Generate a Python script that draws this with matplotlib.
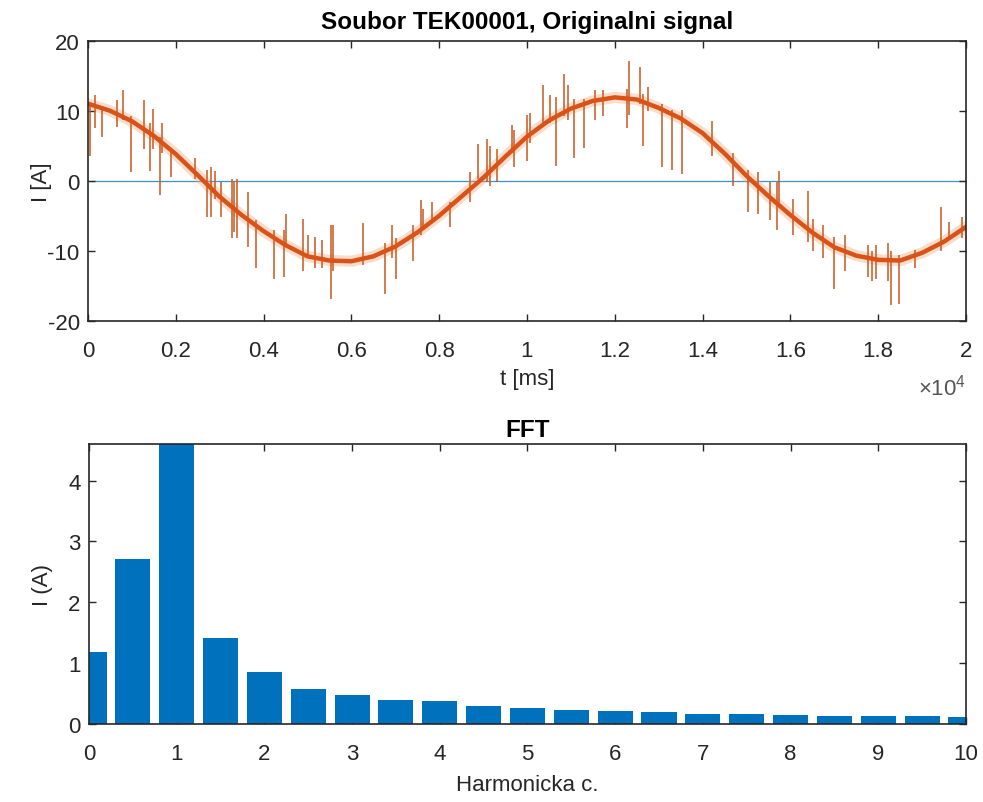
import matplotlib
matplotlib.use('Agg')
import matplotlib.pyplot as plt

plt.rcParams['font.family'] = ['Liberation Sans', 'DejaVu Sans']
plt.rcParams['mathtext.default'] = 'regular'
plt.rcParams['axes.unicode_minus'] = False

# --- signal (t in ms) ---
base_t = [0, 500, 1000, 1500, 2000, 2500, 3000, 3500, 4000, 4500, 5000,
          5500, 6000, 6500, 7000, 7500, 8000, 8500, 9000, 9500, 10000,
          10500, 11000, 11500, 12000, 12500, 13000, 13500, 14000, 14500, 15000,
          15500, 16000, 16500, 17000, 17500, 18000, 18500, 19000, 19500, 20000]
base_i = [11.0, 10.0, 8.5, 6.4, 3.8, 0.8, -2.3, -4.9, -7.2, -9.2, -10.8,
          -11.4, -11.5, -10.8, -9.4, -7.4, -5.0, -2.3, 0.4, 3.4, 6.3,
          8.6, 10.3, 11.4, 11.9, 11.6, 10.4, 8.9, 6.8, 3.9, 0.7,
          -2.2, -4.9, -7.4, -9.5, -10.7, -11.3, -11.4, -10.3, -8.7, -6.6]

spike_t = [50, 160, 310, 650, 800, 990, 1280, 1410, 1490, 1640, 1690, 1890,
           2440, 2700, 2800, 2890, 3030, 3270, 3330, 3400, 3640, 3820, 4240,
           4470, 4510, 4900, 5020, 5160, 5340, 5540, 5580, 6270, 6760, 6920,
           7010, 7410, 7580, 7630, 7830, 8240, 8710, 8890, 9080, 9160, 9310,
           9650, 9700, 10010, 10070, 10370, 10520, 10660, 10850, 10940, 11080,
           11310, 11550, 11740, 12270, 12330, 12570, 12650, 12750, 13070, 13300,
           13530, 14210, 14700, 15040, 15270, 15530, 15700, 15750, 16070, 16390,
           16520, 16750, 17000, 17240, 17770, 17860, 17960, 18230, 18290, 18470,
           18830, 19440, 19620, 19920]
spike_lo = [3.5, 7.5, 6.3, 7.7, 8.7, 1.2, 4.5, 1.4, 4.5, -2.1, 4.0, 0.5,
            0.2, -5.2, -5.2, -2.6, -5.2, -8.2, -7.3, -8.2, -9.4, -12.4, -14.1,
            -13.8, -9.2, -12.9, -10.6, -12.4, -12.4, -16.9, -12.9, -12.0, -16.2, -11.0,
            -14.1, -11.5, -7.7, -7.0, -5.4, -6.6, -3.1, 0.2, -0.2, -0.7, -0.2,
            4.0, 1.9, 2.8, 5.4, 8.0, 8.2, 2.1, 9.2, 8.7, 3.3,
            4.7, 8.7, 9.2, 7.5, 9.4, 11.0, 4.9, 9.9, 1.9, 1.6,
            0.9, 3.5, -0.7, -4.5, -4.7, -5.6, -7.0, -3.8, -7.7, -8.7,
            -10.1, -11.0, -15.5, -12.9, -13.8, -14.3, -14.1, -14.3, -17.8, -17.6,
            -12.4, -10.1, -8.5, -8.2]
spike_hi = [11.0, 12.2, 10.6, 11.5, 12.9, 9.2, 11.5, 8.2, 10.3, 6.3, 8.2, 4.5,
            3.3, 1.6, 1.9, 1.4, -0.2, 0.2, 0.0, 0.2, -1.6, -5.6, -7.0,
            -7.0, -4.7, -5.4, -7.7, -8.0, -8.5, -6.3, -6.3, -6.1, -8.9, -6.3,
            -8.2, -6.3, -2.8, -4.0, -3.1, -3.1, 1.2, 5.2, 5.9, 4.9, 4.5,
            8.0, 7.3, 9.4, 9.6, 13.6, 12.2, 12.0, 15.3, 13.6, 11.7,
            11.7, 12.9, 12.9, 13.1, 17.1, 16.2, 12.4, 13.4, 11.0, 10.1,
            10.1, 8.5, 4.0, 1.6, 1.2, -0.2, -0.2, 1.4, -2.6, -1.4,
            -5.4, -6.3, -8.0, -7.7, -9.2, -10.1, -9.2, -8.9, -10.1, -10.6,
            -9.9, -3.8, -5.9, -5.2]

# --- FFT bars ---
harm = [0, 0.5, 1, 1.5, 2, 2.5, 3, 3.5, 4, 4.5, 5, 5.5, 6, 6.5, 7, 7.5,
        8, 8.5, 9, 9.5, 10]
amp = [1.18, 2.71, 4.9, 1.41, 0.85, 0.575, 0.48, 0.40, 0.38, 0.30, 0.27,
       0.23, 0.21, 0.19, 0.17, 0.17, 0.155, 0.14, 0.14, 0.125, 0.115]

blue = '#0072BD'
orange = '#D95319'
axcol = '#262626'
fs = 16

fig = plt.figure(figsize=(9.83, 8.03), dpi=100)

# ---------- top panel ----------
ax1 = fig.add_axes([0.0895, 0.5993, 0.8932, 0.3488])
ax1.axhline(0, color='#3A92CC', lw=0.9, zorder=1)
ax1.plot(base_t, base_i, color='#F2A878', lw=8, alpha=0.4, zorder=2,
         solid_joinstyle='round')
ax1.vlines(spike_t, spike_lo, spike_hi, color='#C9571E', lw=1.1, zorder=3)
ax1.plot(base_t, base_i, color=orange, lw=3.2, zorder=4,
         solid_joinstyle='round')
ax1.set_xlim(0, 20000)
ax1.set_ylim(-20, 20)
ax1.set_xticks(range(0, 20001, 2000))
ax1.set_xticklabels(['0', '0.2', '0.4', '0.6', '0.8', '1', '1.2', '1.4',
                     '1.6', '1.8', '2'])
ax1.set_yticks([-20, -10, 0, 10, 20])
ax1.set_xlabel('t [ms]', fontsize=fs, color=axcol, labelpad=5)
ax1.set_ylabel('I [A]', fontsize=fs, color=axcol, labelpad=-3)
ax1.set_title('Soubor TEK00001, Originalni signal', fontsize=fs + 1.5,
              fontweight='bold', color='black', pad=9)
ax1.text(1.0, -0.19, r'$\times10^{4}$', transform=ax1.transAxes,
         ha='right', va='top', fontsize=fs, color='#555555')

# ---------- bottom panel ----------
ax2 = fig.add_axes([0.0905, 0.0971, 0.8922, 0.3487])
ax2.bar(harm, amp, width=0.4, color=blue, zorder=2)
ax2.set_xlim(0, 10)
ax2.set_ylim(0, 4.6)
ax2.set_xticks(range(0, 11))
ax2.set_yticks([0, 1, 2, 3, 4])
ax2.set_xlabel('Harmonicka c.', fontsize=fs, color=axcol, labelpad=7)
ax2.set_ylabel('I (A)', fontsize=fs, color=axcol, labelpad=11)
ax2.set_title('FFT', fontsize=fs + 1.5, fontweight='bold', color='black',
              pad=6)

for ax in (ax1, ax2):
    ax.tick_params(direction='in', length=5, width=1, top=True, right=True,
                   labelsize=fs, colors=axcol)
    ax.tick_params(axis='x', pad=14)
    ax.tick_params(axis='y', pad=6)
    for s in ax.spines.values():
        s.set_color(axcol)
        s.set_linewidth(1.2)
        s.set_zorder(5)

fig.savefig('out.png', dpi=100)
